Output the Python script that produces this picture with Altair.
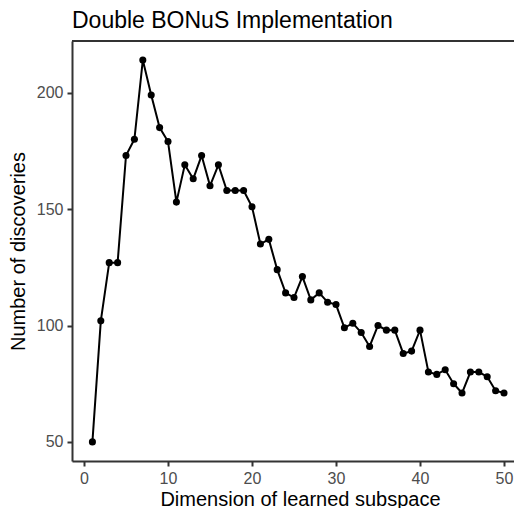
import altair as alt
import pandas as pd

dims = list(range(1, 51))
discoveries = [50, 102, 127, 127, 173, 180, 214, 199, 185, 179,
               153, 169, 163, 173, 160, 169, 158, 158, 158, 151,
               135, 137, 124, 114, 112, 121, 111, 114, 110, 109,
               99, 101, 97, 91, 100, 98, 98, 88, 89, 98,
               80, 79, 81, 75, 71, 80, 80, 78, 72, 71]

df = pd.DataFrame({"dim": dims, "disc": discoveries})

W, H = 442, 420
FONT = "Liberation Sans"
AX = "#333333"

x = alt.X("dim:Q", title="Dimension of learned subspace",
          scale=alt.Scale(domain=[-1.43, 51.19], nice=False, zero=False),
          axis=alt.Axis(values=[0, 10, 20, 30, 40, 50], grid=False,
                        titleX=228, titleAnchor="middle"))
y = alt.Y("disc:Q", title="Number of discoveries",
          scale=alt.Scale(domain=[41.8, 222.2], nice=False, zero=False),
          axis=alt.Axis(values=[50, 100, 150, 200], grid=False))

base = alt.Chart(df)
line = base.mark_line(color="black", strokeWidth=2, clip=True).encode(x=x, y=y)
pts = base.mark_circle(color="black", opacity=1, size=50, clip=True).encode(x=x, y=y)
top = alt.Chart(df).mark_rule(color=AX, strokeWidth=2).encode(
    x=alt.value(0), x2=alt.value(W + 2), y=alt.value(0))

chart = alt.layer(line, pts, top).properties(
    width=W, height=H,
    title=alt.TitleParams("Double BONuS Implementation", anchor="start", frame="group",
                          font=FONT, fontSize=23, fontWeight="normal", color="black",
                          offset=7),
    autosize=alt.AutoSizeParams(type="none"),
    padding={"left": 64, "top": 33, "right": 0, "bottom": 47},
).configure_view(stroke=None).configure_axis(
    domainColor=AX, domainWidth=2, tickColor=AX, tickWidth=2, tickSize=5,
    labelColor="#4d4d4d", labelFont=FONT, labelFontSize=16, labelPadding=4,
    titleColor="black", titleFont=FONT, titleFontSize=20, titleFontWeight="normal",
).configure_axisY(titlePadding=8).configure_axisX(titlePadding=3)

chart.save("out.html", embed_options={"renderer": "svg", "actions": False})
